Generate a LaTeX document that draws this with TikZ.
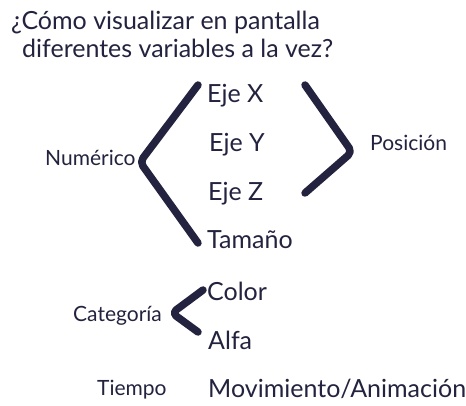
\documentclass[tikz,border=0pt]{standalone}
\usepackage{fontspec}
\setmainfont{Lato}
\definecolor{ink}{HTML}{23233F}
\begin{document}
\begin{tikzpicture}[x=1pt,y=-1pt,
  lbl/.style={anchor=base west,inner sep=0pt,text=ink,font=\fontsize{25}{28}\selectfont},
  grp/.style={anchor=base west,inner sep=0pt,text=ink,font=\fontsize{21}{24}\selectfont},
  brace/.style={draw=ink,line width=7.5pt,line cap=round,line join=round,rounded corners=5pt}]
\useasboundingbox[fill=white] (0,0) rectangle (466,405);
\node[lbl] (t1) at (11,29) {¿Cómo visualizar en pantalla};
\node[lbl] (t2) at (22,57) {diferentes variables a la vez?};
\node[lbl] (ex) at (207,102) {Eje X};
\node[lbl] (ey) at (209,151) {Eje Y};
\node[lbl] (ez) at (208,200) {Eje Z};
\node[lbl] (tam) at (207,248) {Tamaño};
\node[grp] (num) at (45,165) {Numérico};
\node[grp] (pos) at (370,150) {Posición};
\node[lbl] (col) at (207,300) {Color};
\node[lbl] (alf) at (208,349) {Alfa};
\node[grp] (cat) at (73,321) {Categoría};
\node[grp] (tie) at (97,395) {Tiempo};
\node[lbl] (mov) at (208,397) {Movimiento/Animación};
\coordinate (la) at (198,85);
\coordinate (lv) at (140,162);
\coordinate (lb) at (198,243);
\coordinate (ra) at (305,85);
\coordinate (rv) at (352,152);
\coordinate (rb) at (305,193);
\coordinate (ca) at (203,290);
\coordinate (cv) at (172,313);
\coordinate (cb) at (198,332);
\draw[brace] (la) -- (lv) -- (lb);
\draw[brace] (ra) -- (rv) -- (rb);
\draw[brace] (ca) -- (cv) -- (cb);
\end{tikzpicture}
\end{document}
